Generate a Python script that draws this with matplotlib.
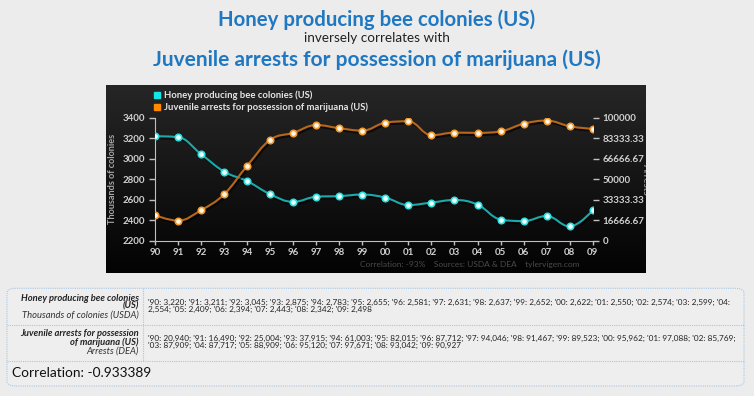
import numpy as np
import matplotlib
matplotlib.use('Agg')
import matplotlib.pyplot as plt
from matplotlib.path import Path
from matplotlib.patches import PathPatch, FancyBboxPatch
from matplotlib.lines import Line2D
import matplotlib.patheffects as pe

# data
years = ['90', '91', '92', '93', '94', '95', '96', '97', '98', '99',
         '00', '01', '02', '03', '04', '05', '06', '07', '08', '09']
honey = [3220, 3211, 3045, 2875, 2783, 2655, 2581, 2631, 2637, 2652,
         2622, 2550, 2574, 2599, 2554, 2409, 2394, 2443, 2342, 2498]
arrests = [20940, 16490, 25004, 37915, 61003, 82015, 87712, 94046, 91467, 89523,
           95962, 97088, 85769, 87909, 87717, 88909, 95120, 97671, 93042, 90927]

honey_ticks = [2200, 2400, 2600, 2800, 3000, 3200, 3400]
arrest_ticks = [0, 16666.67, 33333.33, 50000, 66666.67, 83333.33, 100000]
arrest_tick_labels = ['0', '16666.67', '33333.33', '50000', '66666.67', '83333.33', '100000']

W, H = 754, 396
fig = plt.figure(figsize=(W / 100, H / 100), dpi=100)
fig.patch.set_facecolor('#ececec')
renderer = fig.canvas.get_renderer()


def fx(x):
    return x / W


def fy(y):
    return 1 - y / H


def fit(t, width_px):
    # shrink/grow a text so it spans the width seen in the reference
    w = t.get_window_extent(renderer).width
    t.set_fontsize(t.get_fontsize() * width_px / w)
    return t.get_fontsize()


def spline_path(xs, ys):
    # highcharts style spline
    n = len(xs)
    sm = 1.5
    lc = [None] * n
    rc = [None] * n
    for i in range(1, n - 1):
        x, y = xs[i], ys[i]
        lx, ly = xs[i - 1], ys[i - 1]
        nx, ny = xs[i + 1], ys[i + 1]
        lcx = (sm * x + lx) / (sm + 1)
        lcy = (sm * y + ly) / (sm + 1)
        rcx = (sm * x + nx) / (sm + 1)
        rcy = (sm * y + ny) / (sm + 1)
        corr = (rcy - lcy) * (rcx - x) / (rcx - lcx) + y - rcy
        lcy += corr
        rcy += corr
        if lcy > ly and lcy > y:
            lcy = max(ly, y)
            rcy = 2 * y - lcy
        elif lcy < ly and lcy < y:
            lcy = min(ly, y)
            rcy = 2 * y - lcy
        if rcy > ny and rcy > y:
            rcy = max(ny, y)
            lcy = 2 * y - rcy
        elif rcy < ny and rcy < y:
            rcy = min(ny, y)
            lcy = 2 * y - rcy
        lc[i] = (lcx, lcy)
        rc[i] = (rcx, rcy)
    verts = [(xs[0], ys[0])]
    codes = [Path.MOVETO]
    for i in range(1, n):
        c1 = rc[i - 1] if rc[i - 1] is not None else (xs[i - 1], ys[i - 1])
        c2 = lc[i] if lc[i] is not None else (xs[i], ys[i])
        verts += [c1, c2, (xs[i], ys[i])]
        codes += [Path.CURVE4] * 3
    return Path(verts, codes)


# dark chart panel with a soft gradient
bg = fig.add_axes([fx(106), fy(273), fx(646 - 106), (273 - 85) / H])
grad = np.linspace(0, 1, 256).reshape(-1, 1)
cmap = matplotlib.colors.LinearSegmentedColormap.from_list('bg', ['#262626', '#030303'])
bg.imshow(grad, aspect='auto', cmap=cmap, extent=[0, 1, 0, 1], origin='upper')
bg.set_xlim(0, 1)
bg.set_ylim(0, 1)
bg.axis('off')
bg.text(1.0 - 5 / 540, 0.5, 'Arrests', rotation=270, color='#8a8a8a', fontsize=7,
        family='Lato', fontweight='bold', ha='left', va='center', transform=bg.transAxes,
        clip_on=True)

x = np.arange(len(years))
ax = fig.add_axes([fx(155), fy(241), fx(592.7 - 155), (241 - 117.7) / H])
ax.patch.set_alpha(0)
ax2 = ax.twinx()
ax2.patch.set_alpha(0)

shadow = [pe.SimpleLineShadow(offset=(1, -1.5), shadow_color='black', alpha=0.6), pe.Normal()]

p1 = PathPatch(spline_path(x, honey), facecolor='none', edgecolor='#1ba9aa', lw=1.5,
               path_effects=shadow, zorder=3)
ax.add_patch(p1)
ax.plot(x, honey, ls='none', marker='o', ms=4.6, mfc='#f0ffff', mec='#2fe0e0', mew=1.2, zorder=4)

p2 = PathPatch(spline_path(x, arrests), facecolor='none', edgecolor='#b8661a', lw=1.5,
               path_effects=shadow, zorder=3)
ax2.add_patch(p2)
ax2.plot(x, arrests, ls='none', marker='o', ms=4.6, mfc='#fff6e8', mec='#f29a2e', mew=1.2, zorder=4)

ax.set_xlim(0, len(years) - 1)
ax.set_ylim(2200, 3400)
ax2.set_ylim(0, 100000)
ax.set_xticks(x)
ax.set_xticklabels(years)
ax.set_yticks(honey_ticks)
ax2.set_yticks(arrest_ticks)
ax2.set_yticklabels(arrest_tick_labels)

tick_col = '#d0d0d0'
for a in (ax, ax2):
    for s in a.spines.values():
        s.set_visible(False)
    a.tick_params(colors='#c0c0c0', labelcolor=tick_col, labelsize=7, length=4, width=1, pad=3)
ax.spines['left'].set_visible(True)
ax.spines['bottom'].set_visible(True)
ax.spines['left'].set_color('#c0c0c0')
ax.spines['bottom'].set_color('#c0c0c0')
ax.tick_params(axis='x', length=3, pad=2)
for lab in ax.get_xticklabels() + ax.get_yticklabels() + ax2.get_yticklabels():
    lab.set_fontweight('bold')
    lab.set_family('Lato')
ylab = ax.set_ylabel('Thousands of colonies', color='#a8a8a8', fontsize=7.8, family='Lato',
                     fontweight='bold')
ax.yaxis.set_label_coords((116.7 - 155) / (592.7 - 155), 0.5)
ylab.set_fontsize(7.8 * 94 / 112)

# legend
fig.lines.append(Line2D([fx(156.7)], [fy(95)], marker='s', ms=4, color='#12e6e6', ls='none',
                        transform=fig.transFigure))
fig.lines.append(Line2D([fx(156.7)], [fy(107.3)], marker='s', ms=4, color='#ff8a00', ls='none',
                        transform=fig.transFigure))
leg1 = fig.text(fx(164), fy(95), 'Honey producing bee colonies (US)', color='#e6e6e6',
                fontsize=7, va='center', ha='left', family='Lato', fontweight='bold')
fit(leg1, 149)
leg2 = fig.text(fx(164), fy(107.3), 'Juvenile arrests for possession of marijuana (US)',
                color='#e6e6e6', fontsize=leg1.get_fontsize(), va='center', ha='left',
                family='Lato', fontweight='bold')
foot = fig.text(fx(579), fy(264), 'Correlation: -93%    Sources: USDA & DEA    tylervigen.com',
                color='#4a4a4a', fontsize=7, va='center', ha='right', family='Lato')
fit(foot, 221)

# titles
blue = '#1f78c1'
t1 = fig.text(0.5, fy(20), 'Honey producing bee colonies (US)', color=blue, fontsize=14.5,
              fontweight='bold', ha='center', va='center', family='Lato')
fit(t1, 318)
t2 = fig.text(0.5, fy(38), 'inversely correlates with', color='#222222', fontsize=8.5,
              ha='center', va='center', family='Lato')
fit(t2, 145)
t3 = fig.text(0.5, fy(60), 'Juvenile arrests for possession of marijuana (US)', color=blue,
              fontsize=14.5, fontweight='bold', ha='center', va='center', family='Lato')
fit(t3, 448)

# table below the chart
edge = '#a9c6e6'
box = FancyBboxPatch((fx(7), fy(386)), fx(744 - 7), (386 - 288.3) / H,
                     boxstyle='round,pad=0,rounding_size=0.012', transform=fig.transFigure,
                     facecolor='#eeeeee', edgecolor=edge, lw=0.8, ls=(0, (1, 1)))
fig.patches.append(box)
for yy in (325, 360.7):
    fig.lines.append(Line2D([fx(7), fx(744)], [fy(yy), fy(yy)], color=edge, lw=0.8,
                            ls=(0, (1, 1)), transform=fig.transFigure))
fig.lines.append(Line2D([fx(143.3), fx(143.3)], [fy(288.3), fy(360.7)], color=edge, lw=0.8,
                        ls=(0, (1, 1)), transform=fig.transFigure))


def fmt_row(vals):
    return '; '.join("'%s: %s" % (yr, format(v, ',')) for yr, v in zip(years, vals))


honey_txt = fmt_row(honey)
cut = honey_txt.index("'04: ") + 5
honey_lines = honey_txt[:cut].rstrip() + '\n' + honey_txt[cut:]
arr_txt = fmt_row(arrests)
cut = arr_txt.index("'03: ")
arr_lines = arr_txt[:cut].rstrip() + '\n' + arr_txt[cut:]

tcol = '#222222'
tf = 'Lato'
d1 = fig.text(fx(148.3), fy(306), honey_lines, fontsize=5.6, color=tcol, va='center', ha='left',
              linespacing=1.05, family=tf)
small = fit(d1, 585)
fig.text(fx(148.3), fy(341.8), arr_lines, fontsize=small, color=tcol, va='center', ha='left',
         linespacing=1.05, family=tf)

lab_x = fx(139)
l1 = fig.text(lab_x, fy(298.3), 'Honey producing bee colonies', fontsize=6, style='italic',
              fontweight='bold', color=tcol, ha='right', va='center', family=tf)
lsize = fit(l1, 118)
fig.text(lab_x, fy(306.3), '(US)', fontsize=lsize, style='italic', fontweight='bold', color=tcol,
         ha='right', va='center', family=tf)
fig.text(lab_x, fy(314.7), 'Thousands of colonies (USDA)', fontsize=lsize, style='italic',
         color='#333333', ha='right', va='center', family=tf)
fig.text(lab_x, fy(334), 'Juvenile arrests for possession', fontsize=lsize, style='italic',
         fontweight='bold', color=tcol, ha='right', va='center', family=tf)
fig.text(lab_x, fy(342), 'of marijuana (US)', fontsize=lsize, style='italic', fontweight='bold',
         color=tcol, ha='right', va='center', family=tf)
fig.text(lab_x, fy(350.7), 'Arrests (DEA)', fontsize=lsize, style='italic', color='#333333',
         ha='right', va='center', family=tf)

corr = fig.text(fx(12.3), fy(372.7), 'Correlation: -0.933389', fontsize=10, color='#111111',
                ha='left', va='center', family=tf)
fit(corr, 139)

fig.savefig('out.png', dpi=100, facecolor=fig.get_facecolor())
